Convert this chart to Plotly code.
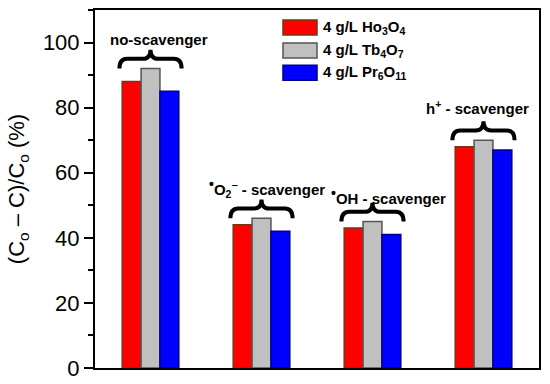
import plotly.graph_objects as go

groups = ["no-scavenger", "•O2− - scavenger", "•OH - scavenger", "h+ - scavenger"]
DOT = "<sup><span style='font-size:14px'>•</span></sup>"
group_labels = ["no-scavenger",
                DOT + "O<sub>2</sub><sup>−</sup> - scavenger",
                DOT + "OH - scavenger",
                "h<sup>+</sup> - scavenger"]
series_names = ["4 g/L Ho<sub>3</sub>O<sub>4</sub>",
                "4 g/L Tb<sub>4</sub>O<sub>7</sub>",
                "4 g/L Pr<sub>6</sub>O<sub>11</sub>"]
ho3o4 = [88, 44, 43, 68]
tb4o7 = [92, 46, 45, 70]
pr6o11 = [85, 42, 41, 67]
y_ticks = [0, 20, 40, 60, 80, 100]

# styles
fills = ["#FF0000", "#C0C0C0", "#0000FF"]
borders = ["#7A3410", "#555555", "#00008B"]
label_xoff = [0.08, 0.05, 0.14, -0.05]
label_yoff = [9.0, 9.4, 8.0, 10.0]

FONT = "Arial, Liberation Sans, sans-serif"
x = list(range(len(groups)))
fig = go.Figure()
for name, vals, fc, bc in zip(series_names, [ho3o4, tb4o7, pr6o11], fills, borders):
    fig.add_trace(go.Bar(x=x, y=vals, name=name, showlegend=False, hoverinfo="skip",
                         marker=dict(color=fc, line=dict(color=bc, width=1.5))))

shapes = []
annotations = []
for i in x:
    top = max(ho3o4[i], tb4o7[i], pr6o11[i])
    xl, xr, xc = i - 0.28, i + 0.28, i
    r = 0.07
    yb, ym, yp = top + 0.0, top + 3.0, top + 5.8
    path = (f"M {xl},{yb} Q {xl},{ym} {xl + r},{ym} L {xc - r},{ym} "
            f"Q {xc},{ym} {xc},{yp} Q {xc},{ym} {xc + r},{ym} "
            f"L {xr - r},{ym} Q {xr},{ym} {xr},{yb}")
    shapes.append(dict(type="path", path=path, xref="x", yref="y",
                       line=dict(color="black", width=4)))
    annotations.append(dict(x=i + label_xoff[i], y=top + label_yoff[i], xref="x", yref="y",
                            text=f"<b>{group_labels[i]}</b>", showarrow=False,
                            font=dict(family=FONT, size=15, color="black"),
                            yanchor="middle"))

# custom legend (wide swatches like the reference)
leg_x0, leg_x1, leg_tx = 0.4234, 0.5, 0.509
leg_rows = [(0.930, 0.972), (0.866, 0.908), (0.804, 0.846)]
for (y0, y1), name, fc, bc in zip(leg_rows, series_names, fills, borders):
    shapes.append(dict(type="rect", xref="paper", yref="paper", x0=leg_x0, x1=leg_x1,
                       y0=y0, y1=y1, fillcolor=fc, line=dict(color=bc, width=1.5)))
    annotations.append(dict(x=leg_tx, y=(y0 + y1) / 2, xref="paper", yref="paper",
                            text=f"<b>{name}</b>", showarrow=False, xanchor="left",
                            yanchor="middle", font=dict(family=FONT, size=15, color="black")))

fig.update_layout(
    width=550, height=384,
    margin=dict(l=95, r=11, t=10, b=16, autoexpand=False),
    paper_bgcolor="white", plot_bgcolor="white",
    barmode="group", bargap=0.49, bargroupgap=0,
    font=dict(family=FONT, color="black"),
    shapes=shapes, annotations=annotations,
    showlegend=False,
)
fig.update_xaxes(range=[-0.5, 3.5], showticklabels=False, ticks="", automargin=False,
                 showline=True, linecolor="black", linewidth=2, mirror=True,
                 showgrid=False, zeroline=False)
fig.update_yaxes(range=[0, 110], tickvals=y_ticks, ticks="outside", ticklen=9,
                 tickwidth=2, tickcolor="black", automargin=False, ticklabelstandoff=0,
                 minor=dict(dtick=10, ticks="outside", ticklen=5, tickwidth=2, tickcolor="black"),
                 tickfont=dict(size=22),
                 title=dict(text="(C<sub>o</sub> – C)/C<sub>o</sub> (%)", font=dict(size=22), standoff=12),
                 showline=True, linecolor="black", linewidth=2, mirror=True,
                 showgrid=False, zeroline=False)
fig.write_html("out.html", config={"displayModeBar": False},
               post_script="document.body.style.margin='0';")
